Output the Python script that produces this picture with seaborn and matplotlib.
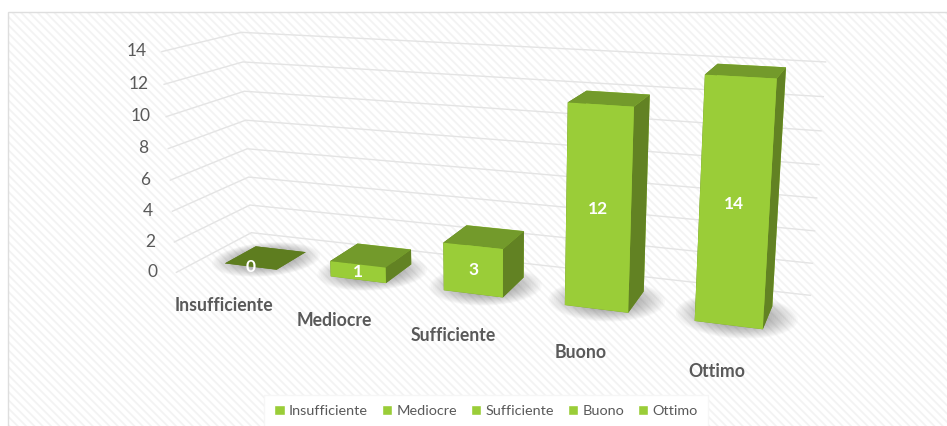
import numpy as np
import matplotlib
matplotlib.use('Agg')
import matplotlib.pyplot as plt
import seaborn as sns
from matplotlib.patches import Rectangle, Patch
from matplotlib.transforms import Affine2D
from mpl_toolkits.mplot3d.art3d import Poly3DCollection

categories = ['Insufficiente', 'Mediocre', 'Sufficiente', 'Buono', 'Ottimo']
values = [0, 1, 3, 12, 14]
z_ticks = [0, 2, 4, 6, 8, 10, 12, 14]

FRONT = '#9ACD38'
TOP = '#739A2B'
SIDE = '#628223'
FLAT = '#5E7D1F'
TEXT = '#595959'

sns.set_theme(style='white', rc={'grid.color': '#E4E4E4', 'grid.linewidth': 1.0, 'hatch.linewidth': 1.3})
plt.rcParams['font.family'] = ['Lato', 'DejaVu Sans']

W, H = 947, 426
fig = plt.figure(figsize=(W / 100, H / 100), dpi=100, facecolor='white')
fig.add_artist(Rectangle((8 / W, -0.02), 1.02, 1.02 - 12 / H, transform=fig.transFigure,
                         facecolor='white', edgecolor='#F3F3F3', hatch='\\\\\\\\', lw=0, zorder=-2))
fig.add_artist(Rectangle((8 / W, -0.02), 1.02, 1.02 - 12 / H, transform=fig.transFigure,
                         facecolor='none', edgecolor='#DEDEDE', lw=1, zorder=-1))

ax = fig.add_subplot(projection='3d', computed_zorder=False)
ax.set_xlim(0, 5, view_margin=0)
ax.set_ylim(0, 1, view_margin=0)
ax.set_zlim(0, 14, view_margin=0)
ax.view_init(14.08, -69.76, 0.13)
ax.set_proj_type('persp', focal_length=0.3422)
ax.set_box_aspect((1, 0.243, 0.3684))

# place the square axes so that the camera centre and scale land where the reference has them
scale, cx, cy = 3642.5, 484.1, 172.8
(a0, b0), (a1, b1) = ax.transLimits.transform([[0, 0], [1, 1]])
side = scale / (a1 - a0)
left = cx - side * a0
bottom = (H - cy) - side * b0
ax.set_position([left / W, bottom / H, side / W, side / H])
ax.patch.set_alpha(0)

gap_x, gap_y = 0.2515, 0.2896
for axis in (ax.xaxis, ax.yaxis, ax.zaxis):
    axis.set_pane_color((1, 1, 1, 0))
    axis.pane.set_edgecolor((1, 1, 1, 0))
    axis.line.set_color((1, 1, 1, 0))
    axis._axinfo['tick']['inward_factor'] = 0
    axis._axinfo['tick']['outward_factor'] = 0
ax.grid(True)
ax.xaxis._axinfo['grid']['linewidth'] = 0
ax.yaxis._axinfo['grid']['linewidth'] = 0

ax.set_yticks([])
ax.set_xticks(np.arange(len(categories)) + 0.5, categories, fontsize=12.7, fontweight='bold', color=TEXT)
ax.set_zticks(z_ticks, [str(t) for t in z_ticks], fontsize=12.5, color=TEXT, va='center')
ax.tick_params(axis='x', pad=9)
ax.tick_params(axis='z', pad=2)
ax.zaxis.set_ticks_position('lower')
for lab in ax.get_zticklabels():
    lab.set_transform(lab.get_transform() + Affine2D().translate(0, 4))

t = np.linspace(0, 2 * np.pi, 48)
for i, (name, v) in enumerate(zip(categories, values)):
    x0, dx = i + gap_x, 1 - 2 * gap_x
    y0, dy = gap_y, 1 - 2 * gap_y
    for k in np.linspace(1.1, 0.5, 18):
        a = (dx / 2 + 0.06) * 1.32 * k
        b = (dy / 2 + 0.03) * 1.5 * k
        poly = list(zip(x0 + dx / 2 + 0.02 + a * np.cos(t), y0 + dy / 2 - 0.02 + b * np.sin(t), 0 * t))
        ax.add_collection3d(Poly3DCollection([poly], facecolor=(0.25, 0.25, 0.25, 0.026),
                                             edgecolor='none', zorder=2))
    top = TOP if v > 0 else FLAT
    ax.bar3d(x0, y0, 0, dx, dy, v, color=[top, top, FRONT, FRONT, SIDE, SIDE],
             shade=False, edgecolor='none', linewidth=0, zorder=3 + i)
    ax.text(i + 0.5, gap_y, v / 2, str(v), color='white', fontsize=12.5, fontweight='bold',
            ha='center', va='center', zorder=20)

handles = [Patch(facecolor=FRONT, label=c) for c in categories]
leg = fig.legend(handles=handles, ncol=5, loc='center', bbox_to_anchor=(486 / W, 1 - 411 / H),
                 frameon=True, facecolor='white', edgecolor='#F6F6F6', framealpha=1, fancybox=False,
                 fontsize=10.4, labelcolor=TEXT, handlelength=0.72, handleheight=0.72,
                 handletextpad=0.3, columnspacing=0.95, borderpad=0.7)

fig.savefig('out.png', dpi=100)
